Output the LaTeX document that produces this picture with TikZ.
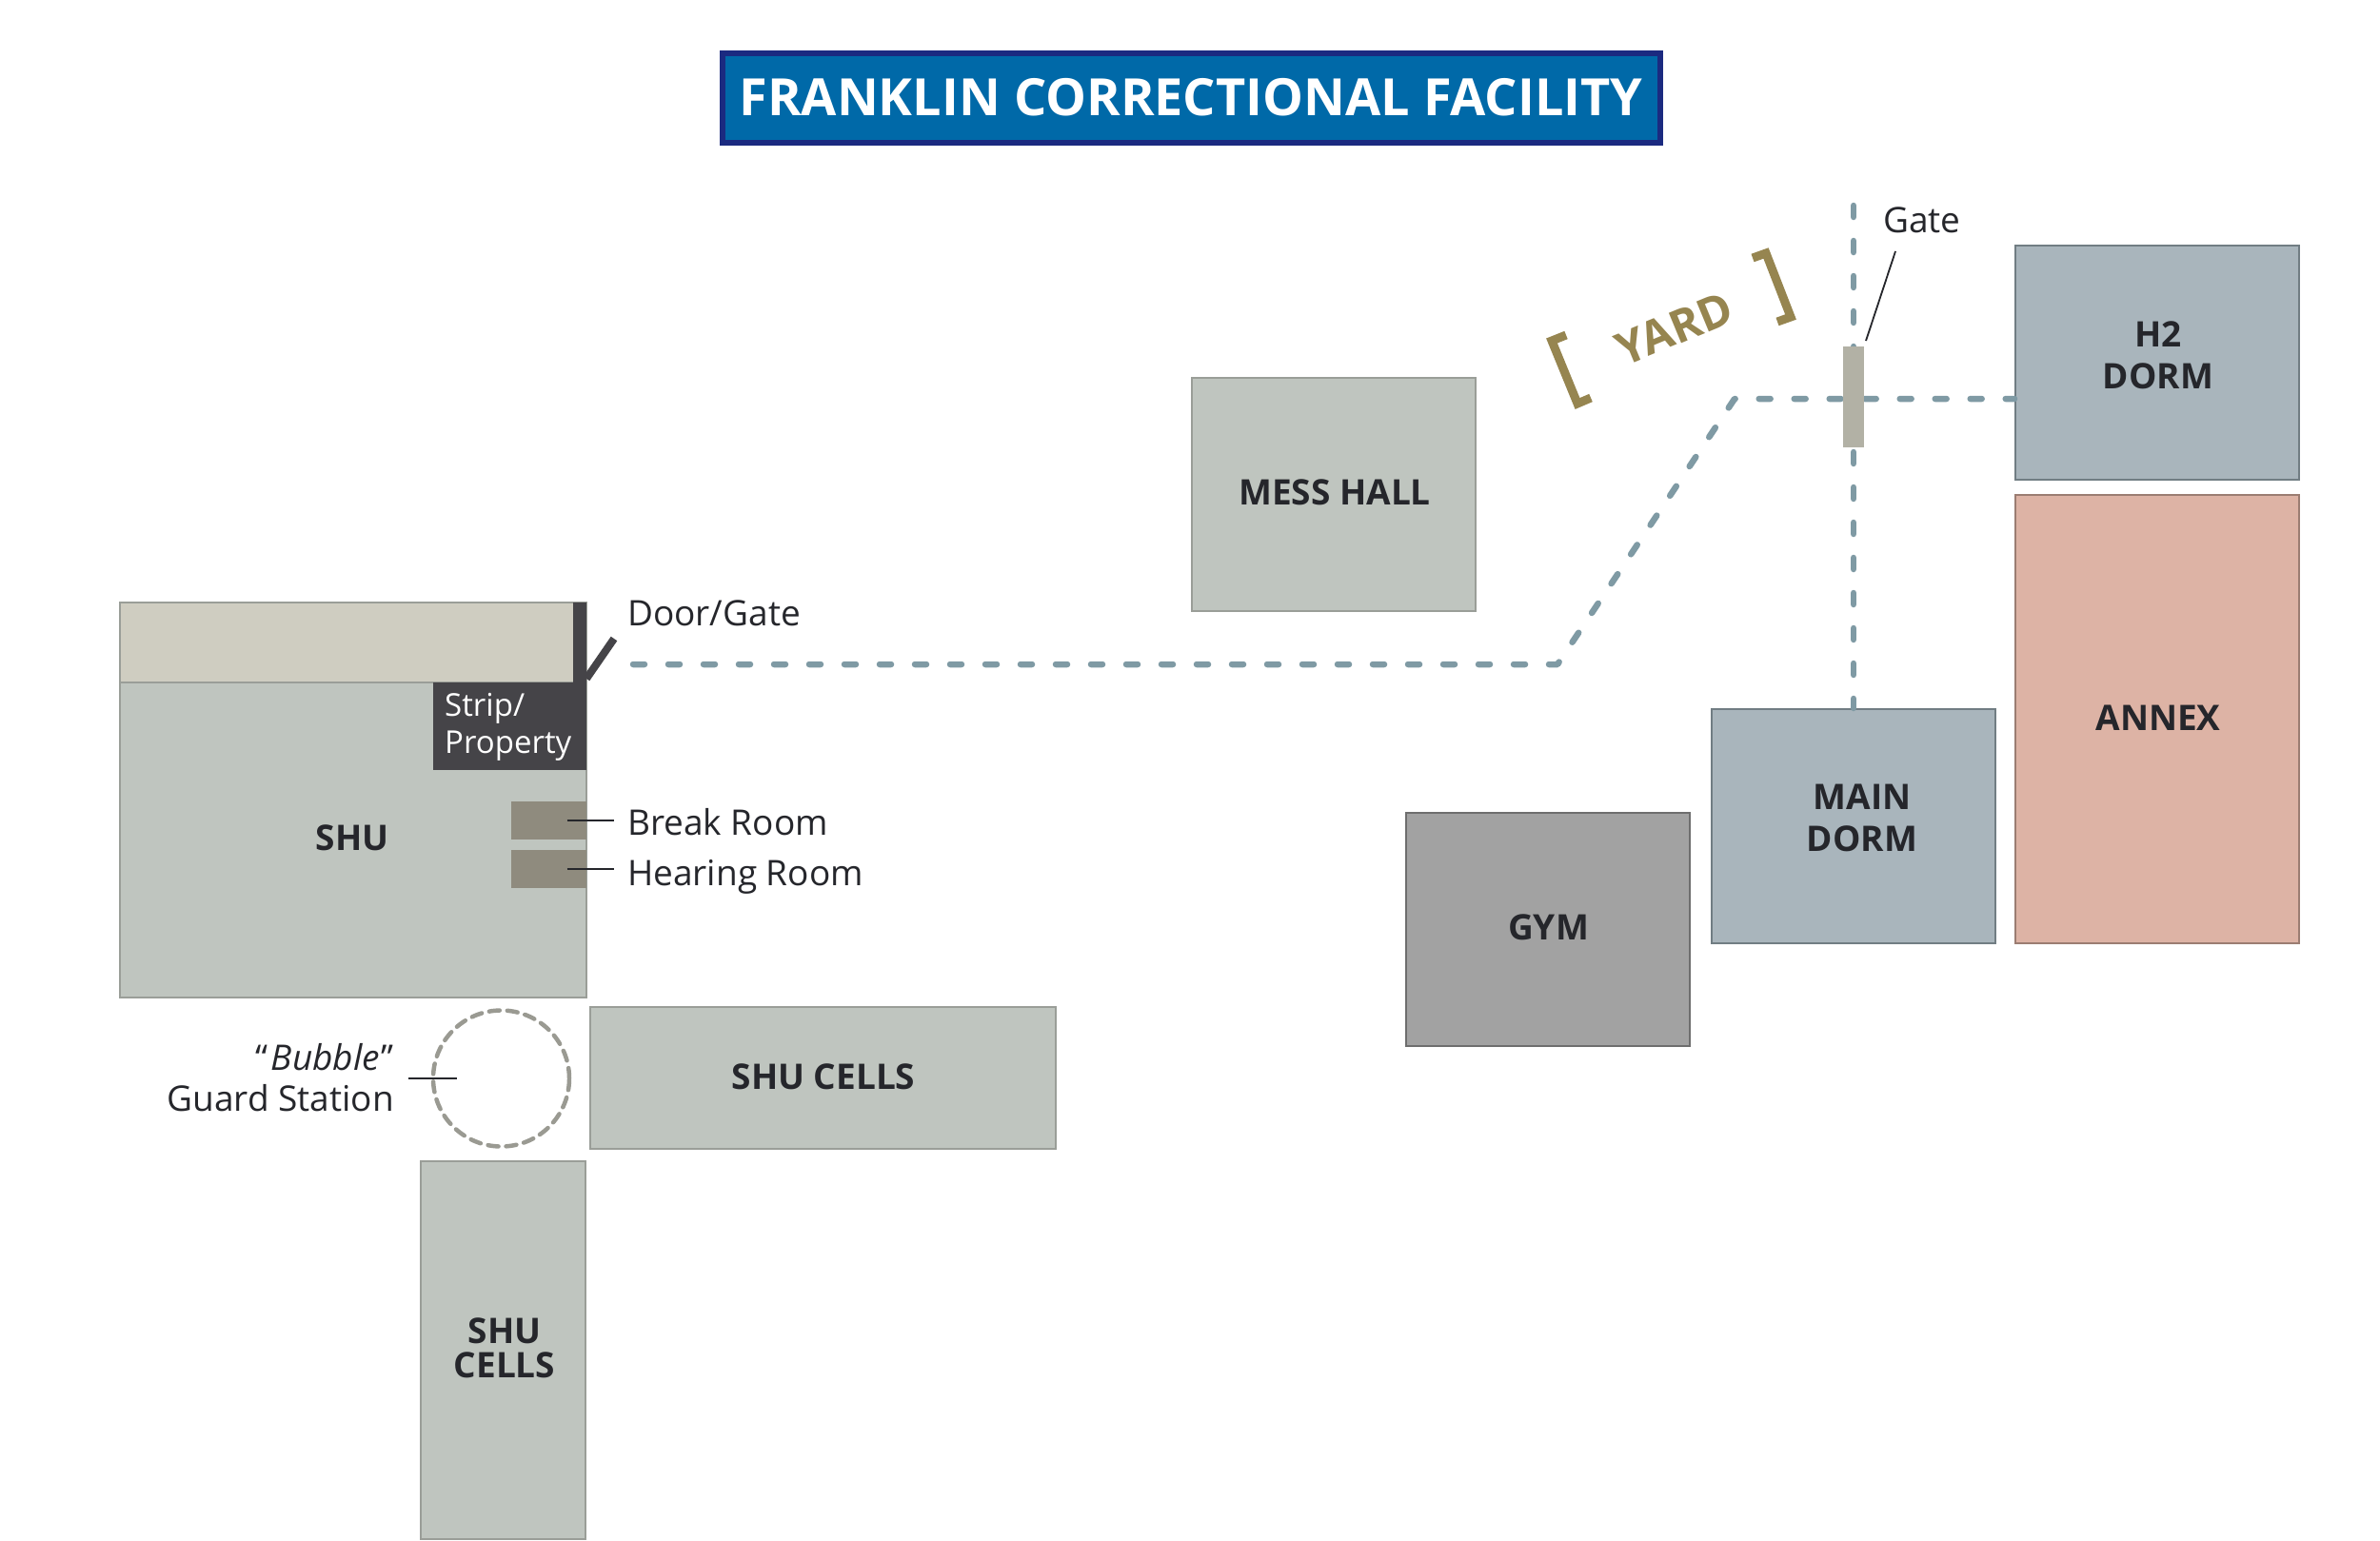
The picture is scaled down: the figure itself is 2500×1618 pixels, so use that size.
\documentclass[tikz,border=0pt]{standalone}
\usepackage{fontspec}
\setmainfont{Open Sans}
\definecolor{cellgreen}{HTML}{BFC5BF}
\definecolor{cellline}{HTML}{9A9E98}
\definecolor{stripbeige}{HTML}{CFCDC1}
\definecolor{darkroom}{HTML}{454448}
\definecolor{smallroom}{HTML}{8F8B7E}
\definecolor{dormblue}{HTML}{A9B5BC}
\definecolor{dormline}{HTML}{717D83}
\definecolor{annexpink}{HTML}{DDB3A5}
\definecolor{annexline}{HTML}{9B7D72}
\definecolor{gymgray}{HTML}{A2A2A2}
\definecolor{gymline}{HTML}{6E6E6E}
\definecolor{walkblue}{HTML}{7F9AA4}
\definecolor{yardgold}{HTML}{968550}
\definecolor{gategray}{HTML}{B2B1A5}
\definecolor{bubblegray}{HTML}{9A9A92}
\definecolor{bannerblue}{HTML}{0069A8}
\definecolor{bannernavy}{HTML}{1B2A80}
\definecolor{inkdark}{HTML}{25262B}
\tikzset{
  roomtxt/.style={inner sep=0pt,text=inkdark,align=center,font=\fontsize{37}{44}\selectfont\bfseries},
  room/.style={rectangle,draw,line width=2pt,inner sep=0pt},
  cellroom/.style={room,fill=cellgreen,draw=cellline},
  dormroom/.style={room,fill=dormblue,draw=dormline},
  plainroom/.style={rectangle,inner sep=0pt},
  tag/.style={inner sep=0pt,text=inkdark,align=left,font=\fontsize{37}{43}\selectfont},
  walk/.style={walkblue,line width=6.5pt,line cap=round,dash pattern=on 12pt off 25pt},
  leader/.style={inkdark,line width=1.8pt},
  yardmark/.style={yardgold,line width=9pt,miter limit=10},
}
\begin{document}
\begin{tikzpicture}[x=1pt,y=-1pt]
\useasboundingbox (0,0) rectangle (2500,1618);

% title
\node[rectangle,fill=bannerblue,draw=bannernavy,line width=6pt,minimum width=985pt,minimum height=94pt,
  inner sep=0pt,text=white,font=\fontsize{54}{60}\selectfont\bfseries] (title) at (1251,103) {\raisebox{1.5pt}{FRANKLIN CORRECTIONAL FACILITY}};

% SHU block
\node[cellroom,minimum width=490pt,minimum height=332pt] (shu) at (371,882) {};
\node[roomtxt] (shutxt) at (370,880) {SHU};
\node[room,fill=stripbeige,draw=cellline,minimum width=490pt,minimum height=84pt] (stripyard) at (371,675) {};
\node[plainroom,fill=darkroom,minimum width=14pt,minimum height=84pt] (wall) at (609,675) {};
\node[plainroom,fill=darkroom,minimum width=161pt,minimum height=92pt] (strip) at (535.5,763) {};
\node[tag,text=white,anchor=west,font=\fontsize{33}{39}\selectfont] (striptxt) at (467,764) {Strip/\\Property};
\node[plainroom,fill=smallroom,minimum width=79pt,minimum height=40pt] (breakroom) at (576.5,862) {};
\node[plainroom,fill=smallroom,minimum width=79pt,minimum height=40pt] (hearing) at (576.5,913) {};

\coordinate (doorhinge) at (616,713);
\coordinate (doorend) at (645,671);
\draw[darkroom,line width=8pt] (doorhinge) -- (doorend);

\node[tag,anchor=west] (doorlab) at (659,644) {Door/Gate};
\node[tag,anchor=west] (breaklab) at (659,864) {Break Room};
\node[tag,anchor=west] (hearinglab) at (659,921) {Hearing Room};
\draw[leader,shorten <=19pt,shorten >=14pt] (breakroom.center) -- (breakroom.center -| breaklab.west);
\draw[leader,shorten <=19pt,shorten >=14pt] (hearing.center) -- (hearing.center -| hearinglab.west);

% cells
\node[cellroom,minimum width=489pt,minimum height=149pt] (cellsh) at (864,1132) {};
\node[roomtxt] (cellshtxt) at (865,1131) {SHU CELLS};
\node[cellroom,minimum width=173pt,minimum height=397pt] (cellsv) at (528.5,1418) {};
\node[roomtxt,font=\fontsize{37}{36}\selectfont\bfseries] (cellsvtxt) at (530,1416) {SHU\\CELLS};

% bubble
\node[circle,draw=bubblegray,line width=4.5pt,line cap=round,dash pattern=on 11pt off 8pt,minimum size=143pt,inner sep=0pt] (bubble) at (526.5,1133) {};
\node[tag,anchor=east,align=right] (bubblelab) at (414,1132) {“\kern3pt\textit{Bubble}\kern2pt”\\Guard Station};
\coordinate (bubbletick) at (429,1133);
\draw[leader,shorten >=47pt] (bubbletick) -- (bubble.center);

% other buildings
\node[cellroom,minimum width=298pt,minimum height=245pt] (mess) at (1400.5,519.5) {};
\node[roomtxt] (messtxt) at (1402,517) {MESS HALL};
\node[room,fill=gymgray,draw=gymline,minimum width=298pt,minimum height=245pt] (gym) at (1625.5,976.5) {};
\node[roomtxt] (gymtxt) at (1626.5,974.5) {GYM};
\node[dormroom,minimum width=298pt,minimum height=246pt] (maindorm) at (1946.5,868) {};
\node[roomtxt] (maintxt) at (1956,859) {MAIN\\DORM};
\node[dormroom,minimum width=298pt,minimum height=246pt] (h2) at (2266,381) {};
\node[roomtxt] (h2txt) at (2267,373) {H2\\DORM};
\node[room,fill=annexpink,draw=annexline,minimum width=298pt,minimum height=471pt] (annex) at (2266,755) {};
\node[roomtxt] (annextxt) at (2267,754) {ANNEX};

% walkways
\coordinate (walkstart) at (665,698);
\coordinate (walkbend) at (1636,698);
\coordinate (walktop) at (1822,419);
\coordinate (gatetop) at (1947,216);
\draw[walk,line join=round] (walkstart) -- (walkbend) -- (walktop) -- (walktop -| h2.west);
\draw[walk] (gatetop) -- (gatetop |- maindorm.north);

% gate
\node[plainroom,fill=gategray,minimum width=22pt,minimum height=106pt] (gate) at (1947,417) {};
\node[tag] (gatelab) at (2019,231) {Gate};
\coordinate (gatetick) at (1991,264);
\coordinate (gatefoot) at (1960,358);
\draw[leader] (gatetick) -- (gatefoot);

% yard
\node[inner sep=0pt,text=yardgold,rotate=22.5,font=\fontsize{48}{50}\selectfont\bfseries] (yard) at (1759,345) {YARD};
\draw[yardmark] (1645,352) -- (1630,358) -- (1657,424) -- (1671,418);
\draw[yardmark] (1841,271) -- (1855,266) -- (1881,333) -- (1867,338);

\end{tikzpicture}
\end{document}
